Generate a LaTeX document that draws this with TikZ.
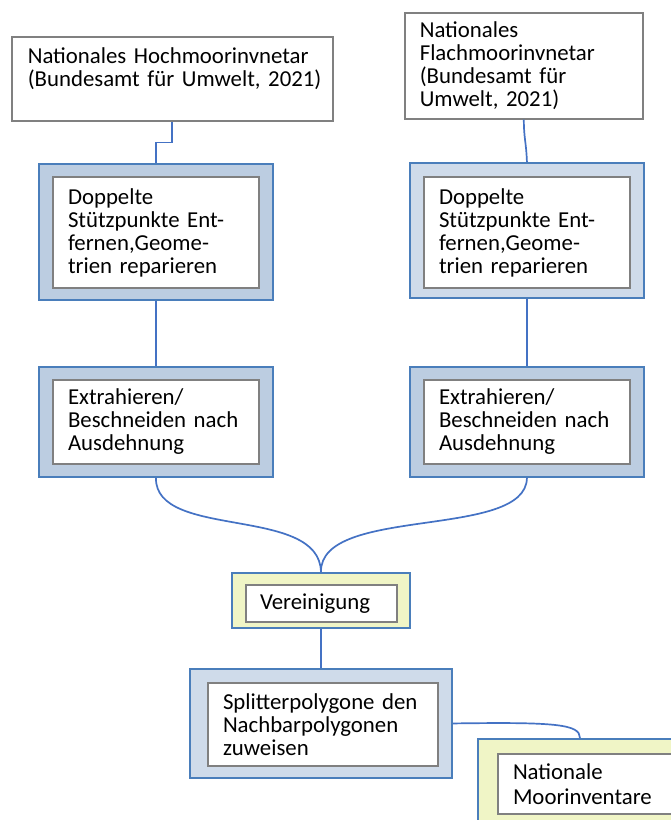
\documentclass[tikz,border=0pt]{standalone}
\usepackage{fontspec}
\setmainfont{Carlito}
\definecolor{frameblue}{RGB}{74,126,187}
\definecolor{fillblueD}{RGB}{188,205,225}
\definecolor{fillblueL}{RGB}{207,219,234}
\definecolor{fillyellow}{RGB}{240,245,198}
\definecolor{boxgray}{RGB}{128,128,128}
\definecolor{linkblue}{RGB}{68,114,196}
\begin{document}
\begin{tikzpicture}[x=1pt,y=-1pt,
  font=\fontsize{22.8}{23}\selectfont,
  every node/.style={anchor=north west, rectangle, inner ysep=0pt},
  outerD/.style={draw=frameblue, fill=fillblueD, line width=1.9pt},
  outerL/.style={draw=frameblue, fill=fillblueL, line width=1.9pt},
  outerY/.style={draw=frameblue, fill=fillyellow, line width=1.9pt},
  innerbox/.style={draw=boxgray, fill=white, line width=2pt, inner xsep=15pt, align=left},
  srcbox/.style={draw=boxgray, fill=white, line width=1.6pt, inner xsep=16pt, align=left},
  link/.style={draw=linkblue, line width=1.7pt}]
\clip (0,0) rectangle (671,820);

% source inventories
\node[srcbox, minimum width=321pt, minimum height=84pt, text width=289pt] (t1) at (11,36)
  {\mbox{Nationales Hochmoorinvnetar}\\\mbox{(Bundesamt für Umwelt, 2021)}\\\mbox{}};
\node[srcbox, inner xsep=15pt, minimum width=238pt, minimum height=106pt, text width=208pt] (t2) at (404,12)
  {Nationales\\Flachmoorinvnetar\\(Bundesamt für\\Umwelt, 2021)};

% geometry cleaning
\node[outerD, minimum width=234pt, minimum height=136pt] (d1o) at (38,163) {};
\node[innerbox, minimum height=111pt, text width=176pt] (d1) at (52,176)
  {Doppelte\\Stützpunkte Ent-\\fernen,Geome-\\trien reparieren};
\node[outerL, minimum width=234pt, minimum height=135pt] (d2o) at (409,162) {};
\node[innerbox, minimum height=111pt, text width=176pt] (d2) at (423,176)
  {Doppelte\\Stützpunkte Ent-\\fernen,Geome-\\trien reparieren};

% extraction
\node[outerD, minimum width=234pt, minimum height=110pt] (e1o) at (38,366) {};
\node[innerbox, minimum height=84pt, text width=176pt] (e1) at (52,379)
  {Extrahieren/\\Beschneiden nach\\Ausdehnung};
\node[outerD, minimum width=234pt, minimum height=110pt] (e2o) at (409,366) {};
\node[innerbox, minimum height=84pt, text width=176pt] (e2) at (423,379)
  {Extrahieren/\\Beschneiden nach\\Ausdehnung};

% union
\node[outerY, minimum width=178pt, minimum height=55pt] (vo) at (231,572) {};
\node[innerbox, inner xsep=14pt, minimum height=37pt, text width=123pt] (v) at (245,584)
  {Vereinigung};

% splitter assignment
\node[outerL, minimum width=262pt, minimum height=109pt] (so) at (189,668) {};
\node[innerbox, minimum height=83pt, text width=200pt] (s) at (207,682)
  {Splitterpolygone den\\Nachbarpolygonen\\zuweisen};

% result
\node[outerY, minimum width=240pt, minimum height=120pt] (no) at (477,738) {};
\node[innerbox, minimum height=60pt, text width=190pt, font=\fontsize{22.8}{25}\selectfont] (n) at (497,753)
  {Nationale\\Moorinventare};

% connectors
\draw[link] (t1.south) -- ++(0,21) -| (d1o.north);
\draw[link] (t2.south) .. controls (524,140) and (526,140) .. (d2o.north);
\draw[link] (d1o.south) -- (e1o.north);
\draw[link] (d2o.south) -- (e2o.north);
\draw[link] (e1o.south) .. controls (155,540) and (320,505) .. (vo.north);
\draw[link] (e2o.south) .. controls (526,540) and (320,505) .. (vo.north);
\draw[link] (vo.south) -- (so.north);
\draw[link] (so.east) .. controls (555,722) and (580,724) .. ([xshift=103pt]no.north west);
\end{tikzpicture}
\end{document}
